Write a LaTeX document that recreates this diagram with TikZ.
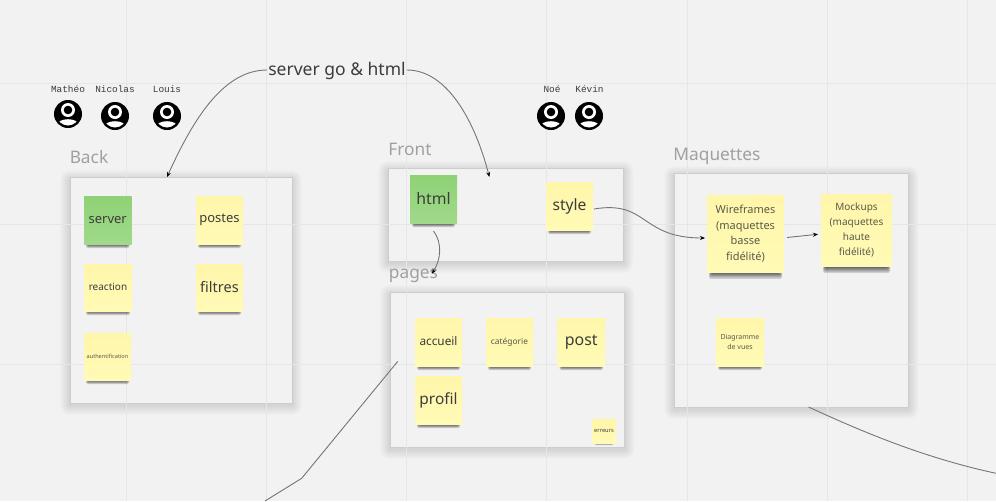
\documentclass[tikz,border=0pt]{standalone}
\usepackage{fontspec}
\setmainfont{Noto Sans}
\setmonofont{Liberation Mono}
\usetikzlibrary{calc,arrows.meta}
\definecolor{bgc}{HTML}{F2F2F2}
\definecolor{gridc}{HTML}{E6E6E6}
\definecolor{framec}{HTML}{CDCDCD}
\definecolor{titlec}{HTML}{A0A0A0}
\definecolor{linkc}{HTML}{757575}
\definecolor{inkc}{HTML}{3C3C3C}
\definecolor{softc}{HTML}{5A5A4A}
\definecolor{yelt}{HTML}{FFF6AA}
\definecolor{yelb}{HTML}{FFFAB6}
\definecolor{gret}{HTML}{8FD275}
\definecolor{greb}{HTML}{A0D98A}
\tikzset{
  x=1pt,y=-1pt,
  framebox/.style={draw=framec,line width=1pt,fill=bgc,inner sep=0pt,outer sep=0pt},
  sticky/.style={inner sep=0pt,outer sep=0pt,align=center,text=inkc},
  yellownote/.style={sticky,top color=yelt,bottom color=yelb},
  softnote/.style={yellownote,text=softc},
  greennote/.style={sticky,top color=gret,bottom color=greb},
  titletext/.style={text=titlec,inner sep=0pt,font=\fontsize{17.3}{20}\selectfont},
  nametext/.style={text=inkc,inner sep=0pt,font=\ttfamily\fontsize{9.4}{11}\selectfont},
  avatardisc/.style={circle,fill=black,inner sep=0pt,minimum size=28pt},
  link/.style={draw=linkc,line width=0.9pt},
  linkarrow/.style={link,-{Stealth[length=5pt,width=4pt,color=black]}},
  gridline/.style={draw=gridc,line width=1pt},
}
\newcommand{\frameshadow}[4]{%
  \foreach \d in {1,...,10}{\fill[black,opacity=0.013,rounded corners=\d pt] ({#1-\d},{#2-\d+3}) rectangle ({#3+\d},{#4+\d+2});}%
}
\newcommand{\myframe}[5]{%
  \frameshadow{#2}{#3}{#4}{#5}%
  \node[framebox,minimum width={(#4-#2)*1pt},minimum height={(#5-#3)*1pt}] (#1) at ({(#2+#4)/2},{(#3+#5)/2}) {};%
}
% name, x1,y1,x2,y2, style, size/skip, text
\newcommand{\mynote}[8]{%
  \foreach \d in {1,...,5}{\fill[black,opacity=0.15,rounded corners=1.5pt] ({#2+1.5+\d*0.5},{#5-2}) rectangle ({#4-1.5-\d*0.5},{#5+(#5-#3)*0.105-\d*(#5-#3)*0.017});}%
  \node[#6,minimum width={(#4-#2)*1pt},minimum height={(#5-#3)*1pt},font=#7] (#1) at ({(#2+#4)/2},{(#3+#5)/2}) {#8};%
}
\newcommand{\avatar}[3]{%
  \node[avatardisc] (#1) at (#2,#3) {};%
  \begin{scope}[shift={(#1.center)}]
    \fill[white] (0,-4) circle (7);
    \fill[black] (0,-4) circle (4.3);
    \begin{scope}
      \clip (0,0) circle (11.5);
      \fill[white] (0,10.6) ellipse (10.5 and 5.4);
    \end{scope}
  \end{scope}%
}
\begin{document}
\begin{tikzpicture}
\useasboundingbox (0,0) rectangle (996,501);
\fill[bgc] (0,0) rectangle (996,501);
% frames
\myframe{back}{70}{177}{292}{403}
\myframe{front}{388}{168}{623.5}{261}
\myframe{pagesbox}{390}{292}{624.5}{447}
\myframe{maq}{674}{173}{908.5}{407}
% grid
\foreach \gx in {126.7,266.7,406.7,546.7,687,827,967}{\draw[gridline] (\gx,0) -- (\gx,501);}
\foreach \gy in {83.5,224,364.5}{\draw[gridline] (0,\gy) -- (996,\gy);}
% titles
\node[titletext] (tback) at (89,157) {Back};
\node[titletext] (tfront) at (410,149) {Front};
\node[titletext] (tpages) at (413.5,276) {pages};
\node[titletext] (tmaq) at (717,156) {Maquettes};
% people
\avatar{a1}{68}{114}
\avatar{a2}{115}{116}
\avatar{a3}{167}{116}
\avatar{a4}{551}{116}
\avatar{a5}{589}{116}
\node[nametext] (n1) at (68,89.5) {Mathéo};
\node[nametext] (n2) at (115,89.5) {Nicolas};
\node[nametext] (n3) at (167,89.5) {Louis};
\node[nametext] (n4) at (552,89.5) {Noé};
\node[nametext] (n5) at (589.5,89.5) {Kévin};
% notes
\mynote{server}{84}{196}{131.5}{244}{greennote}{\fontsize{13}{15}\selectfont}{server}
\mynote{postes}{196}{196}{243}{244}{yellownote}{\fontsize{13}{15}\selectfont}{postes}
\mynote{reaction}{84}{264}{132}{311}{yellownote}{\fontsize{10}{12}\selectfont}{\raisebox{1.5pt}{reaction}}
\mynote{filtres}{196}{264}{243}{311}{yellownote}{\fontsize{14.5}{17}\selectfont}{\raisebox{2pt}{filtres}}
\mynote{auth}{84}{333}{131}{380}{softnote}{\fontsize{5.6}{7}\selectfont}{authentification}
\mynote{html}{410}{175}{457}{223}{greennote}{\fontsize{15.8}{18}\selectfont}{\raisebox{2pt}{html}}
\mynote{style}{546}{182}{593}{230}{yellownote}{\fontsize{15.6}{18}\selectfont}{style}
\mynote{accueil}{415}{318}{462}{366}{yellownote}{\fontsize{11.8}{14}\selectfont}{\raisebox{2pt}{accueil}}
\mynote{categorie}{486}{318}{533}{366}{softnote}{\fontsize{8.4}{10}\selectfont}{catégorie}
\mynote{post}{557.5}{318}{605}{366}{yellownote}{\fontsize{15.9}{18}\selectfont}{post}
\mynote{profil}{415}{376}{462}{424}{yellownote}{\fontsize{15.4}{18}\selectfont}{profil}
\mynote{erreurs}{592}{419}{616}{443}{yellownote}{\fontsize{5.7}{7}\selectfont}{erreurs}
\mynote{wire}{707}{195}{784}{272}{softnote}{\fontsize{11}{15.5}\selectfont}{Wireframes\\(maquettes\\basse\\fidélité)}
\mynote{mock}{821}{194}{892}{266.5}{softnote}{\fontsize{10}{15}\selectfont}{Mockups\\(maquettes\\haute\\fidélité)}
\mynote{diag}{716}{318}{764}{366}{softnote}{\fontsize{7}{10}\selectfont}{Diagramme\\de vues}
% free ends of the two open lines
\coordinate (lowleft) at (265,501);
\coordinate (lowright) at (996,473.3);
% label and connectors
\node[text=inkc,inner sep=0pt,font=\fontsize{17.5}{20}\selectfont] (lab) at (337,71) {server go \& html};
\draw[linkarrow] ($(lab.west)+(-1,-1)$) .. controls +(-42,0) and (195,115) .. ($(back.north)+(-14,0)$);
\draw[linkarrow] ($(lab.east)+(1,-1)$) .. controls +(42,0) and (476,125) .. ($(front.north)+(-16.4,9)$);
\draw[linkarrow] ($(html.south)+(0,8)$) .. controls +(9,12) and +(9,-14) .. ($(pagesbox.north)+(-75.3,-18.4)$);
\draw[linkarrow] ($(style.east)+(1,3)$) .. controls +(54,-9) and +(-65,0) .. ($(wire.west)+(-2,4.5)$);
\draw[linkarrow] ($(wire.east)+(3,4)$) -- ($(mock.west)+(-3,4)$);
\draw[link] ($(pagesbox.west)+(7.8,-8.2)$) -- (301.7,478.3) -- (lowleft);
\draw[link] ($(maq.south)+(17.3,0)$) .. controls (865,433) and (925,458) .. (lowright);
\end{tikzpicture}
\end{document}
